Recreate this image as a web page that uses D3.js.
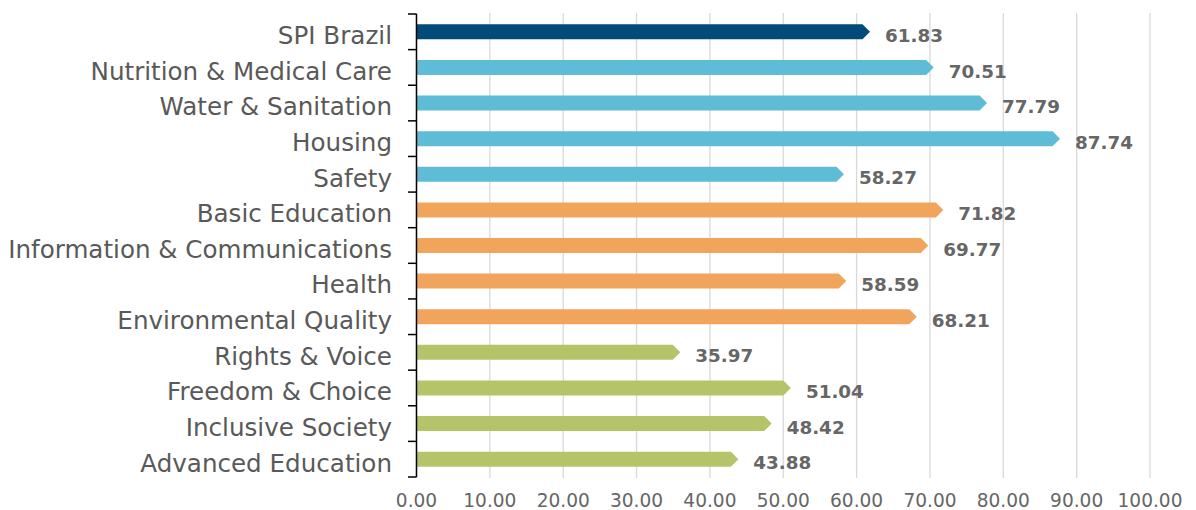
<!DOCTYPE html>
<html>
<head>
<meta charset="utf-8">
<script src="https://cdn.jsdelivr.net/npm/d3@7"></script>
<style>
  html, body { margin: 0; padding: 0; background: #fff; }
  svg { display: block; }
</style>
</head>
<body>
<svg id="chart" width="1196" height="510"></svg>
<script>
// chart data
const categories = [
  'SPI Brazil', 'Nutrition & Medical Care', 'Water & Sanitation', 'Housing', 'Safety',
  'Basic Education', 'Information & Communications', 'Health', 'Environmental Quality',
  'Rights & Voice', 'Freedom & Choice', 'Inclusive Society', 'Advanced Education'
];
const values = [61.83, 70.51, 77.79, 87.74, 58.27, 71.82, 69.77, 58.59, 68.21, 35.97, 51.04, 48.42, 43.88];
const groups = ['spi', 'needs', 'needs', 'needs', 'needs', 'wellbeing', 'wellbeing', 'wellbeing', 'wellbeing',
  'opportunity', 'opportunity', 'opportunity', 'opportunity'];
const xTicks = [0, 10, 20, 30, 40, 50, 60, 70, 80, 90, 100];

const groupColor = {
  spi: '#004b78',
  needs: '#5fbcd6',
  wellbeing: '#f1a45b',
  opportunity: '#b5c468'
};

const FONT = '"DejaVu Sans", sans-serif';
const svg = d3.select('#chart');

// pick font size so a sample string is as wide as in the picture
function fitSize(sample, weight, target) {
  const t = svg.append('text')
    .attr('font-family', FONT)
    .attr('font-weight', weight)
    .attr('font-size', 20)
    .text(sample);
  const w = t.node().getComputedTextLength();
  t.remove();
  return 20 * target / w;
}

const catSize = fitSize('Information & Communications', 'normal', 384);
const tickSize = fitSize('100.00', 'normal', 65);
const valSize = fitSize('87.74', 'bold', 58);

const x = d3.scaleLinear().domain([0, 100]).range([416.5, 1150]);
const y = d3.scaleBand().domain(categories).range([14, 477]);
const barH = 15;
const tipLen = 7.5;
const textShift = 3.5; // labels sit a little below the bar centre

// gridlines
svg.append('g')
  .selectAll('line')
  .data(xTicks)
  .join('line')
  .attr('x1', d => x(d)).attr('x2', d => x(d))
  .attr('y1', 13).attr('y2', 478)
  .attr('stroke', '#d9d9d9')
  .attr('stroke-width', 1.3);

// bars with pointed ends
svg.append('g')
  .selectAll('path')
  .data(categories)
  .join('path')
  .attr('fill', (d, i) => groupColor[groups[i]])
  .attr('d', (d, i) => {
    const x0 = x(0), x1 = x(values[i]);
    const top = y(d) + (y.bandwidth() - barH) / 2, bot = top + barH, mid = top + barH / 2;
    return `M${x0},${top}L${x1 - tipLen},${top}L${x1},${mid}L${x1 - tipLen},${bot}L${x0},${bot}Z`;
  });

// value labels
svg.append('g')
  .selectAll('text')
  .data(categories)
  .join('text')
  .attr('x', (d, i) => x(values[i]) + 15)
  .attr('y', d => y(d) + y.bandwidth() / 2 + textShift)
  .attr('dy', '0.36em')
  .attr('font-family', FONT)
  .attr('font-weight', 'bold')
  .attr('font-size', valSize)
  .attr('fill', '#666666')
  .text((d, i) => values[i].toFixed(2));

// category axis: line, boundary ticks, labels
const yAxis = svg.append('g');
yAxis.append('line')
  .attr('x1', 416.5).attr('x2', 416.5)
  .attr('y1', 14).attr('y2', 477)
  .attr('stroke', '#000').attr('stroke-width', 1.5);
const bounds = categories.map(d => y(d)).concat([y.range()[1]]);
yAxis.selectAll('line.tick')
  .data(bounds)
  .join('line')
  .attr('class', 'tick')
  .attr('x1', 408).attr('x2', 416.5)
  .attr('y1', d => d).attr('y2', d => d)
  .attr('stroke', '#000').attr('stroke-width', 1.5);
yAxis.selectAll('text')
  .data(categories)
  .join('text')
  .attr('x', 392)
  .attr('y', d => y(d) + y.bandwidth() / 2 + textShift)
  .attr('dy', '0.36em')
  .attr('text-anchor', 'end')
  .attr('font-family', FONT)
  .attr('font-size', catSize)
  .attr('fill', '#595959')
  .text(d => d);

// value axis labels
svg.append('g')
  .selectAll('text')
  .data(xTicks)
  .join('text')
  .attr('x', d => x(d))
  .attr('y', 500)
  .attr('dy', '0.36em')
  .attr('text-anchor', 'middle')
  .attr('font-family', FONT)
  .attr('font-size', tickSize)
  .attr('fill', '#666666')
  .text(d => d.toFixed(2));
</script>
</body>
</html>
